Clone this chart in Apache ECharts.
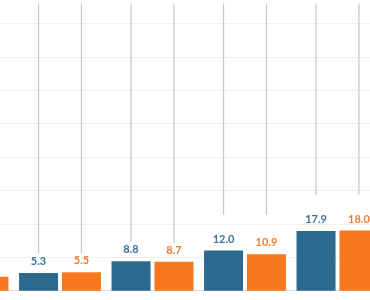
<!DOCTYPE html>
<html><head><meta charset="utf-8">
<script src="https://cdn.jsdelivr.net/npm/echarts@6/dist/echarts.min.js"></script>
<style>html,body{margin:0;padding:0;background:#fff;overflow:hidden;width:370px;height:300px;position:relative}#c{position:absolute;left:-79px;top:-10px;width:463px;height:310px}</style>
</head><body><div id="c"></div>
<script>
const categories = ['1', '2', '3', '4', '5'];
const blueValues = [4.0, 5.3, 8.8, 12.0, 17.9];
const orangeValues = [4.2, 5.5, 8.7, 10.9, 18.0];
const blueLineLow = [10.4, 11.3, 14.6, 22.7, 28.7];
const orangeLineLow = [10.4, 11.3, 14.3, 22.7, 28.7];
const lineTop = [86, 86, 86, 86, 86];

const BLUE = '#2d6a8e', ORANGE = '#f7791f';
const BAR_W = 39, GAP = 3.9;

function lineSeries(low, sign) {
  return {
    type: 'custom', silent: true, z: 1,
    data: categories.map((c, i) => [i, low[i], lineTop[i]]),
    renderItem: function (params, api) {
      const p1 = api.coord([api.value(0), api.value(1)]);
      const p2 = api.coord([api.value(0), api.value(2)]);
      const off = sign * (BAR_W + GAP) / 2;
      return {
        type: 'line',
        shape: { x1: p1[0] + off, y1: p1[1], x2: p2[0] + off, y2: p2[1] },
        style: { stroke: '#c6c6c6', lineWidth: 1.2 }
      };
    }
  };
}

const chart = echarts.init(document.getElementById('c'), null, { renderer: 'canvas' });
chart.setOption({
  animation: false,
  grid: { left: 0.25, right: 0.25, top: 0.07, bottom: 9.3 },
  xAxis: {
    type: 'category', data: categories,
    axisLine: { lineStyle: { color: '#dcdcdc' } },
    axisTick: { alignWithLabel: true, length: 5, lineStyle: { color: '#d0d0d0' } },
    axisLabel: { show: false }
  },
  yAxis: {
    type: 'value', min: 0, max: 90, interval: 10,
    axisLabel: { show: false }, axisLine: { show: false }, axisTick: { show: false },
    splitLine: { lineStyle: { color: '#efefef', width: 1 } }
  },
  series: [
    {
      type: 'bar', data: blueValues, barWidth: BAR_W, barGap: '10%', z: 2,
      itemStyle: { color: BLUE },
      label: { show: true, position: 'top', distance: 6, color: '#3c7396', fontSize: 11, fontWeight: 'bold', fontFamily: 'Lato', formatter: p => p.value.toFixed(1) }
    },
    {
      type: 'bar', data: orangeValues, barWidth: BAR_W, z: 2,
      itemStyle: { color: ORANGE },
      label: { show: true, position: 'top', distance: 6, color: '#f47c2a', fontSize: 11, fontWeight: 'bold', fontFamily: 'Lato', formatter: p => p.value.toFixed(1) }
    },
    lineSeries(blueLineLow, -1),
    lineSeries(orangeLineLow, 1)
  ]
});
</script></body></html>
